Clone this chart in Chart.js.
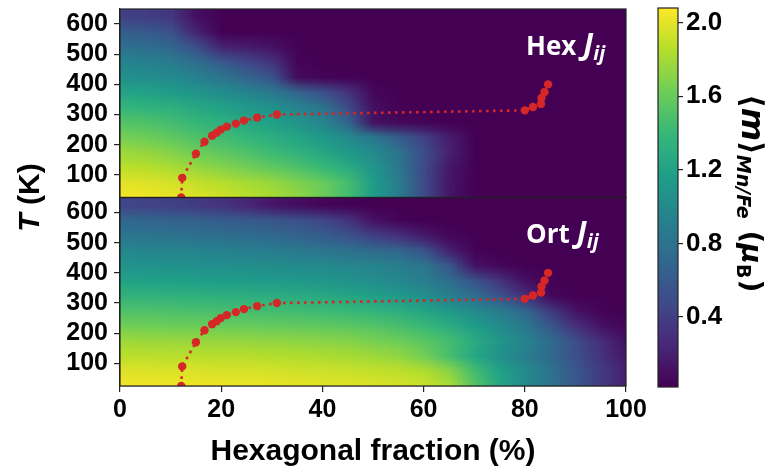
<!DOCTYPE html>
<html><head><meta charset="utf-8">
<script src="https://cdn.jsdelivr.net/npm/chart.js@4.4.1/dist/chart.umd.min.js"></script>
<style>
html,body{margin:0;padding:0;background:#fff;}
#wrap{position:relative;width:771px;height:468px;overflow:hidden;background:#fff;}
#wrap canvas{position:absolute;top:0;}
</style></head>
<body><div id="wrap"><canvas id="main" width="771" height="468" style="left:0"></canvas><canvas id="cbar" width="171" height="468" style="left:600px"></canvas></div>
<script>
// ---------------- data ----------------
const X_FRAC = [0,5,10,15,20,25,30,35,40,45,50,55,60,65,70,75,80,85,90,95,100];
const T_ROWS = [625,575,525,475,425,375,325,275,225,175,125,75,25];
const X_TICKS = [0,20,40,60,80,100];
const T_TICKS = [100,200,300,400,500,600];
const T_MIN = 25, T_MAX = 650;

// <m>_Mn/Fe for Hex J_ij (rows follow T_ROWS, columns follow X_FRAC)
const HEX_M = [
 [0.42,0.40,0.34,0.10,0.02,0.02,0.02,0.02,0.02,0.02,0.02,0.02,0.02,0.02,0.02,0.02,0.02,0.02,0.02,0.02,0.02],
 [0.62,0.60,0.54,0.22,0.02,0.02,0.02,0.02,0.02,0.02,0.02,0.02,0.02,0.02,0.02,0.02,0.02,0.02,0.02,0.02,0.02],
 [0.78,0.76,0.70,0.52,0.22,0.18,0.12,0.03,0.02,0.02,0.02,0.02,0.02,0.02,0.02,0.02,0.02,0.02,0.02,0.02,0.02],
 [0.95,0.93,0.88,0.76,0.60,0.46,0.32,0.04,0.02,0.02,0.02,0.02,0.02,0.02,0.02,0.02,0.02,0.02,0.02,0.02,0.02],
 [1.05,1.03,1.00,0.93,0.82,0.68,0.55,0.08,0.04,0.03,0.02,0.02,0.02,0.02,0.02,0.02,0.02,0.02,0.02,0.02,0.02],
 [1.22,1.20,1.15,1.08,1.02,0.95,0.86,0.68,0.52,0.32,0.05,0.02,0.02,0.02,0.02,0.02,0.02,0.02,0.02,0.02,0.02],
 [1.38,1.35,1.32,1.26,1.20,1.12,1.05,0.95,0.80,0.48,0.10,0.03,0.02,0.02,0.02,0.02,0.02,0.02,0.02,0.02,0.02],
 [1.52,1.50,1.45,1.38,1.32,1.25,1.18,1.08,0.96,0.68,0.12,0.06,0.04,0.02,0.02,0.02,0.02,0.02,0.02,0.02,0.02],
 [1.65,1.62,1.57,1.50,1.45,1.38,1.30,1.22,1.12,1.00,0.85,0.62,0.42,0.18,0.02,0.02,0.02,0.02,0.02,0.02,0.02],
 [1.78,1.75,1.70,1.62,1.56,1.50,1.42,1.35,1.25,1.12,1.00,0.80,0.50,0.20,0.02,0.02,0.02,0.02,0.02,0.02,0.02],
 [1.88,1.86,1.82,1.76,1.70,1.64,1.57,1.50,1.40,1.28,1.10,0.85,0.48,0.15,0.02,0.02,0.02,0.02,0.02,0.02,0.02],
 [2.00,1.98,1.95,1.90,1.86,1.81,1.76,1.68,1.60,1.46,1.15,0.88,0.48,0.14,0.02,0.02,0.02,0.02,0.02,0.02,0.02],
 [2.06,2.05,2.02,1.98,1.93,1.88,1.82,1.74,1.62,1.45,1.15,0.88,0.48,0.14,0.02,0.02,0.02,0.02,0.02,0.02,0.02]
];
// <m>_Mn/Fe for Ort J_ij
const ORT_M = [
 [0.45,0.44,0.42,0.38,0.32,0.24,0.15,0.09,0.05,0.03,0.02,0.02,0.02,0.02,0.02,0.02,0.02,0.02,0.02,0.02,0.02],
 [0.70,0.69,0.67,0.65,0.62,0.60,0.57,0.53,0.46,0.32,0.12,0.04,0.02,0.02,0.02,0.02,0.02,0.02,0.02,0.02,0.02],
 [0.82,0.81,0.80,0.78,0.76,0.74,0.71,0.67,0.62,0.55,0.40,0.30,0.16,0.05,0.02,0.02,0.02,0.02,0.02,0.02,0.02],
 [0.98,0.97,0.96,0.95,0.93,0.91,0.89,0.86,0.82,0.78,0.73,0.68,0.55,0.20,0.03,0.02,0.02,0.02,0.02,0.02,0.02],
 [1.08,1.07,1.06,1.05,1.04,1.03,1.02,1.01,1.00,0.98,0.95,0.90,0.82,0.58,0.12,0.05,0.02,0.02,0.02,0.02,0.02],
 [1.20,1.19,1.18,1.17,1.16,1.15,1.14,1.12,1.10,1.07,1.03,0.98,0.90,0.75,0.55,0.32,0.10,0.03,0.02,0.02,0.02],
 [1.36,1.35,1.34,1.33,1.32,1.31,1.30,1.28,1.26,1.23,1.18,1.12,1.04,0.92,0.76,0.55,0.30,0.05,0.02,0.02,0.02],
 [1.50,1.50,1.49,1.48,1.47,1.46,1.45,1.44,1.42,1.40,1.36,1.30,1.22,1.12,1.00,0.88,0.70,0.38,0.12,0.04,0.02],
 [1.64,1.63,1.62,1.62,1.61,1.60,1.59,1.58,1.57,1.55,1.52,1.47,1.40,1.30,1.16,1.02,0.86,0.58,0.30,0.12,0.04],
 [1.78,1.77,1.77,1.76,1.76,1.75,1.74,1.73,1.72,1.70,1.66,1.62,1.55,1.45,1.28,1.10,0.94,0.74,0.50,0.28,0.10],
 [1.88,1.88,1.87,1.87,1.86,1.86,1.85,1.84,1.83,1.81,1.78,1.74,1.64,1.47,1.24,1.06,0.90,0.72,0.52,0.32,0.15],
 [1.98,1.98,1.97,1.97,1.96,1.96,1.95,1.94,1.93,1.92,1.90,1.88,1.84,1.72,1.45,1.20,1.00,0.80,0.58,0.38,0.20],
 [2.05,2.05,2.04,2.04,2.03,2.03,2.02,2.01,2.00,1.99,1.98,1.96,1.92,1.82,1.52,1.22,1.00,0.80,0.58,0.37,0.20]
];
// transition curve (red markers)
const TC_FRAC = [12.1,12.3,15.0,16.7,18.2,19.1,19.9,21.1,22.9,24.5,27.1,31.0,80.0,81.6,83.2,83.3,83.9,84.6];
const TC_T    = [25,90,170,210,230,240,250,260,270,280,290,300,314,325,335,355,375,400];

// colour bar
const CB_MIN = 0.02, CB_MAX = 2.08;
const CB_TICKS = [0.4,0.8,1.2,1.6,2.0];

// ---------------- styling helpers ----------------
const FONT = "'Liberation Sans', Arial, Helvetica, sans-serif";
const VIRIDIS = [[68,1,84],[72,40,120],[62,74,137],[49,104,142],[38,130,142],[31,158,137],[53,183,121],[109,205,89],[180,222,44],[253,231,37]];
function viridis(v){
  let t=(v-CB_MIN)/(CB_MAX-CB_MIN); t=Math.max(0,Math.min(1,t));
  const f=t*(VIRIDIS.length-1); const i=Math.min(VIRIDIS.length-2,Math.floor(f)); const u=f-i;
  const a=VIRIDIS[i], b=VIRIDIS[i+1];
  return [a[0]+(b[0]-a[0])*u, a[1]+(b[1]-a[1])*u, a[2]+(b[2]-a[2])*u];
}
function makeImage(grid){
  const ny=grid.length, nx=grid[0].length;
  const c=document.createElement('canvas'); c.width=nx+2; c.height=ny+2;
  const g=c.getContext('2d'); const img=g.createImageData(nx+2,ny+2);
  for(let j=0;j<ny+2;j++){
    const r=Math.min(ny-1,Math.max(0,j-1));
    for(let i=0;i<nx+2;i++){
      const q=Math.min(nx-1,Math.max(0,i-1));
      const col=viridis(grid[r][q]); const k=4*(j*(nx+2)+i);
      img.data[k]=col[0]; img.data[k+1]=col[1]; img.data[k+2]=col[2]; img.data[k+3]=255;
    }
  }
  g.putImageData(img,0,0); return c;
}
const PANELS = [['yTop',HEX_M,'Hex'],['yBot',ORT_M,'Ort']];

const heatPlugin = {
  id:'heat',
  beforeDatasetsDraw(chart){
    const ctx=chart.ctx, xs=chart.scales.x, a=chart.chartArea;
    const dx=X_FRAC[1]-X_FRAC[0], dT=T_ROWS[0]-T_ROWS[1];
    PANELS.forEach(([id,grid])=>{
      const ys=chart.scales[id]; const img=makeImage(grid);
      const x0=xs.getPixelForValue(X_FRAC[0]-1.5*dx), x1=xs.getPixelForValue(X_FRAC[X_FRAC.length-1]+1.5*dx);
      const y0=ys.getPixelForValue(T_ROWS[0]+1.5*dT), y1=ys.getPixelForValue(T_ROWS[T_ROWS.length-1]-1.5*dT);
      ctx.save(); ctx.beginPath(); ctx.rect(a.left,ys.top,a.right-a.left,ys.bottom-ys.top); ctx.clip();
      ctx.imageSmoothingEnabled=true; ctx.imageSmoothingQuality='low';
      ctx.drawImage(img,x0,y0,x1-x0,y1-y0);
      ctx.restore();
    });
  },
  beforeDatasetDraw(chart,args){
    const ys=chart.scales[args.meta.yAxisID], a=chart.chartArea, ctx=chart.ctx;
    ctx.save(); ctx.beginPath(); ctx.rect(a.left,ys.top,a.right-a.left,ys.bottom-ys.top); ctx.clip();
  },
  afterDatasetDraw(chart){ chart.ctx.restore(); },
  afterDatasetsDraw(chart){
    const ctx=chart.ctx, a=chart.chartArea;
    ctx.save();
    // panel frames
    ctx.strokeStyle='#222'; ctx.lineWidth=1.2;
    PANELS.forEach(([id])=>{ const ys=chart.scales[id]; ctx.strokeRect(a.left,ys.top,a.right-a.left,ys.bottom-ys.top); });
    // panel labels
    PANELS.forEach(([id,grid,name])=>{
      const ys=chart.scales[id]; let x=a.right-100; const y=ys.top+45.5;
      ctx.fillStyle='#fff'; ctx.textBaseline='alphabetic'; ctx.textAlign='left';
      ctx.font="bold 26px 'Open Sans', "+FONT; ctx.fillText(name,x,y); x+=ctx.measureText(name).width+7;
      ctx.font="italic bold 30px 'Open Sans', "+FONT; ctx.fillText('J',x,y); x+=ctx.measureText('J').width;
      ctx.font="italic bold 20px 'Open Sans', "+FONT; ctx.fillText('ij',x,y+5);
    });
    // x title
    ctx.fillStyle='#000'; ctx.textAlign='center'; ctx.textBaseline='alphabetic';
    ctx.font='bold 30px '+FONT; ctx.fillText('Hexagonal fraction (%)',(a.left+a.right)/2,460);
    // y title
    ctx.translate(39,(a.top+a.bottom)/2); ctx.rotate(-Math.PI/2); ctx.textAlign='left';
    ctx.font='italic bold 30px '+FONT; const w1=ctx.measureText('T').width;
    ctx.font='bold 30px '+FONT; const w2=ctx.measureText(' (K)').width;
    let sx=-(w1+w2)/2;
    ctx.font='italic bold 30px '+FONT; ctx.fillText('T',sx,0);
    ctx.font='bold 30px '+FONT; ctx.fillText(' (K)',sx+w1,0);
    ctx.restore();
  }
};

const tickFont={family:FONT,weight:'bold',size:25};
function yScale(){
  return {
    type:'linear', position:'left', stack:'T', stackWeight:1, min:T_MIN, max:T_MAX,
    afterBuildTicks(s){ s.ticks=T_TICKS.map(v=>({value:v})); },
    afterFit(s){ s.width=120; s.paddingTop=0; s.paddingBottom=0; },
    ticks:{font:tickFont,color:'#000',padding:6,autoSkip:false},
    grid:{display:true,drawOnChartArea:false,drawTicks:true,tickLength:6,color:'#222',lineWidth:1.2},
    border:{display:true,color:'#222',width:1.2}
  };
}
const lineStyle={borderColor:'#d62728',backgroundColor:'#d62728',borderWidth:2.6,borderDash:[2.6,4.4],
  pointRadius:4.2,pointBorderWidth:0,pointHoverRadius:4.2,showLine:true,tension:0,fill:false};
const pts=TC_FRAC.map((x,i)=>({x:x,y:TC_T[i]}));

new Chart(document.getElementById('main'),{
  type:'scatter',
  data:{datasets:[
    Object.assign({label:'Hex',data:pts,yAxisID:'yTop'},lineStyle),
    Object.assign({label:'Ort',data:pts,yAxisID:'yBot'},lineStyle)
  ]},
  options:{
    responsive:false, animation:false, devicePixelRatio:1,
    layout:{padding:{left:0,top:9,right:145,bottom:0}},
    plugins:{legend:{display:false},title:{display:false},tooltip:{enabled:false}},
    scales:{
      x:{type:'linear',position:'bottom',min:0,max:100,
        afterBuildTicks(s){ s.ticks=X_TICKS.map(v=>({value:v})); },
        afterFit(s){ s.height=82; s.paddingLeft=0; s.paddingRight=0; },
        ticks:{font:tickFont,color:'#000',padding:3,maxRotation:0,autoSkip:false},
        grid:{display:true,drawOnChartArea:false,drawTicks:true,tickLength:6,color:'#222',lineWidth:1.2},
        border:{display:true,color:'#222',width:1.2}},
      yBot:yScale(),
      yTop:yScale()
    }
  },
  plugins:[heatPlugin]
});

// ---------------- colour bar ----------------
const cbarPlugin={
  id:'cbarfill',
  beforeDatasetsDraw(chart){
    const ctx=chart.ctx, a=chart.chartArea, ys=chart.scales.y;
    for(let py=Math.floor(a.top);py<Math.ceil(a.bottom);py++){
      const c=viridis(ys.getValueForPixel(py+0.5));
      ctx.fillStyle='rgb('+c.map(Math.round).join(',')+')';
      ctx.fillRect(a.left,py,a.right-a.left,1);
    }
    ctx.strokeStyle='#222'; ctx.lineWidth=1.2; ctx.strokeRect(a.left,a.top,a.right-a.left,a.bottom-a.top);
  },
  afterDatasetsDraw(chart){
    const ctx=chart.ctx;
    ctx.save(); ctx.translate(142,94); ctx.rotate(Math.PI/2);
    ctx.fillStyle='#000'; ctx.textBaseline='alphabetic'; ctx.textAlign='left';
    let x=0;
    ctx.font="bold 30px 'DejaVu Sans'"; ctx.fillText('\u27E8',x,0); x+=ctx.measureText('\u27E8').width;
    ctx.font="italic bold 32px 'DejaVu Sans'"; ctx.fillText('m',x,0); x+=ctx.measureText('m').width;
    ctx.font="bold 30px 'DejaVu Sans'"; ctx.fillText('\u27E9',x,0); x+=ctx.measureText('\u27E9').width;
    ctx.font="italic bold 19px 'DejaVu Sans'"; ctx.fillText('Mn/Fe',x,5); x+=ctx.measureText('Mn/Fe').width+12;
    ctx.font="bold 28px 'DejaVu Sans'"; ctx.fillText('(',x,0); x+=ctx.measureText('(').width;
    ctx.font="italic bold 28px 'DejaVu Sans'"; ctx.fillText('\u03BC',x,0); x+=ctx.measureText('\u03BC').width;
    ctx.font="bold 19px 'DejaVu Sans'"; ctx.fillText('B',x,5); x+=ctx.measureText('B').width+1;
    ctx.font="bold 28px 'DejaVu Sans'"; ctx.fillText(')',x,0);
    ctx.restore();
  }
};
new Chart(document.getElementById('cbar'),{
  type:'scatter',
  data:{datasets:[]},
  options:{
    responsive:false, animation:false, devicePixelRatio:1,
    layout:{padding:{left:58,top:8,right:0,bottom:81}},
    plugins:{legend:{display:false},title:{display:false},tooltip:{enabled:false}},
    scales:{
      x:{display:false,min:0,max:1},
      y:{type:'linear',position:'right',min:CB_MIN,max:CB_MAX,
        afterBuildTicks(s){ s.ticks=CB_TICKS.map(v=>({value:v})); },
        afterFit(s){ s.width=93; s.paddingTop=0; s.paddingBottom=0; },
        ticks:{font:{family:FONT,weight:'bold',size:26},color:'#000',padding:3,autoSkip:false,callback:v=>Number(v).toFixed(1)},
        grid:{display:true,drawOnChartArea:false,drawTicks:true,tickLength:5,color:'#222',lineWidth:1.2},
        border:{display:false}}
    }
  },
  plugins:[cbarPlugin]
});
</script>
</body></html>
